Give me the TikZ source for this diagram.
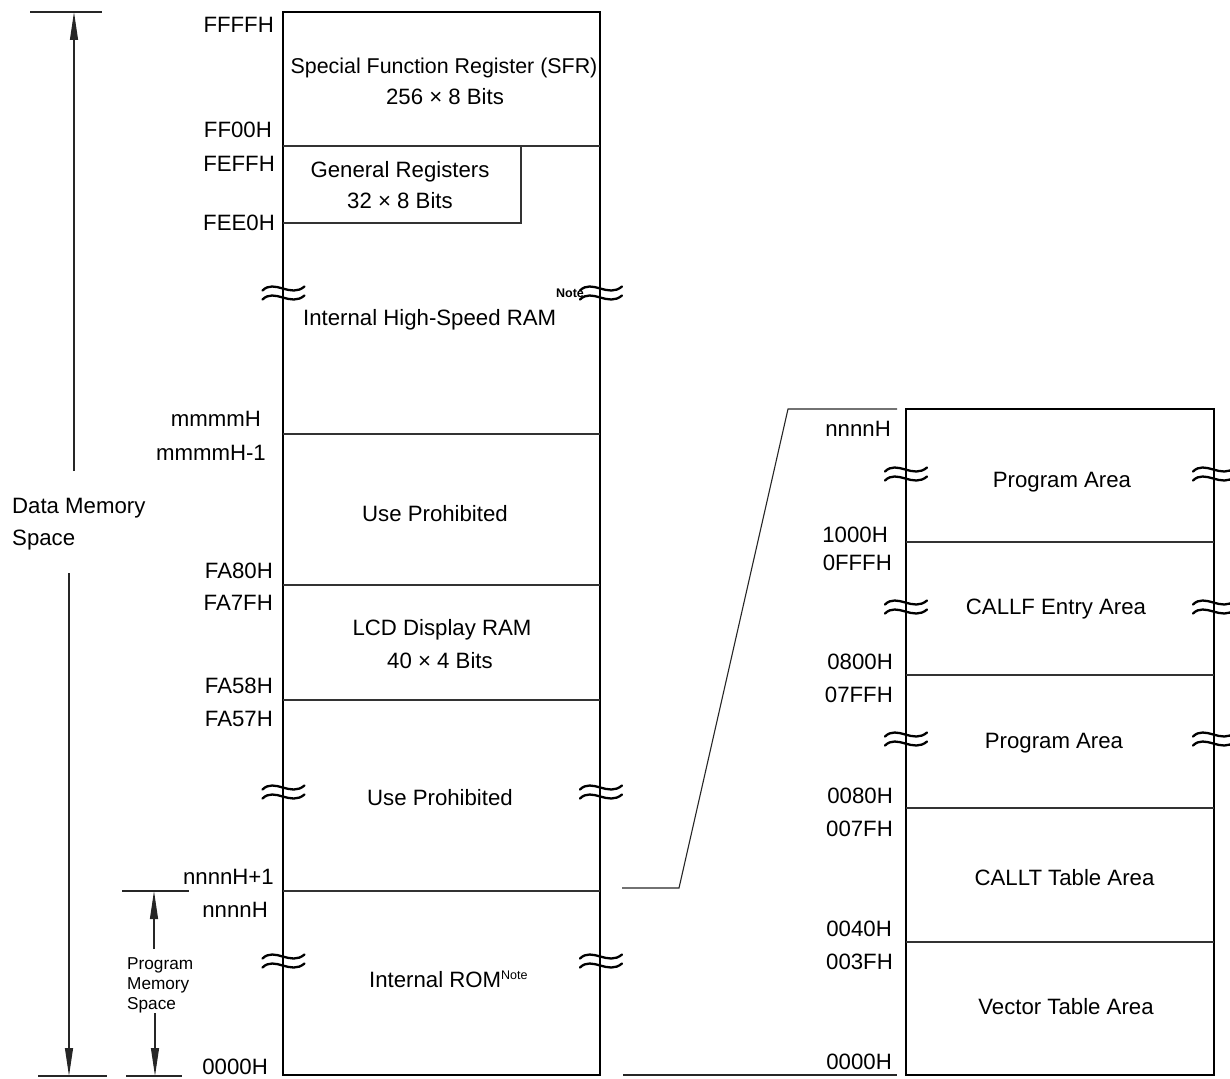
\documentclass[tikz,border=0pt]{standalone}
\usepackage{fontspec}
\setmainfont{Liberation Sans}
\usetikzlibrary{arrows.meta}
\newcommand\fsz{\fontsize{22.2}{26}\selectfont}
\newcommand\fsn{\fontsize{21.4}{26}\selectfont}
\newcommand\fsm{\fontsize{17.2}{20}\selectfont}
\newcommand\notesz{\fontsize{12.5}{12.5}\selectfont}
\begin{document}
\begin{tikzpicture}[x=1pt,y=-1pt,
  lbl/.style={font=\fsz, inner sep=0pt, text height=15.9pt, text depth=0pt, anchor=east},
  txt/.style={font=\fsz, inner sep=0pt, text height=15.9pt, text depth=0pt},
  sml/.style={font=\fsm, inner sep=0pt, text height=12.3pt, text depth=0pt, anchor=west},
  boxline/.style={line width=2.8pt},
  sep/.style={line width=1.2pt, black!80},
  thinline/.style={line width=1.1pt, black!85},
  arr/.style={thinline, -{Triangle[length=28pt,width=8pt]}},
  brk/.style={line width=2.3pt, line cap=round},
  brkm/.pic={
    \draw[brk] (-21,-2.5) .. controls (-9,-14.5) and (7,5.5) .. (21,-6.5);
    \draw[brk] (-21,6.5) .. controls (-9,-5.5) and (7,14.5) .. (21,2.5);
  }]
\useasboundingbox (0,0) rectangle (1230,1078);

% ---------- main (data memory) column ----------
\draw[boxline] (283,12) rectangle (600,1075);
\draw[sep] (283,146) -- (600,146);
\draw[sep] (283,223) -- (521,223) -- (521,146);
\draw[sep] (283,434) -- (600,434);
\draw[sep] (283,585) -- (600,585);
\draw[sep] (283,700) -- (600,700);
\draw[sep] (283,891) -- (600,891);

\foreach \yy in {293,792,961} {
  \pic at (283.5,\yy) {brkm};
  \pic at (601,\yy) {brkm};
}

\node[txt, font=\fsn] (sfr1) at (444,66) {Special Function Register (SFR)};
\node[txt] (sfr2) at (445,97) {256 × 8 Bits};
\node[txt] (gr1) at (400,169.5) {General Registers};
\node[txt] (gr2) at (400,201) {32 × 8 Bits};
\node[txt, anchor=west] (hsram) at (303,317.5) {Internal High-Speed RAM\raisebox{28pt}{\notesz\bfseries Note}};
\node[txt] (up1) at (435,514) {Use Prohibited};
\node[txt] (lcd1) at (442,628) {LCD Display RAM};
\node[txt] (lcd2) at (440,661) {40 × 4 Bits};
\node[txt] (up2) at (440,797.5) {Use Prohibited};
\node[txt, anchor=west] (rom) at (369,980) {Internal ROM\raisebox{8.5pt}{\notesz Note}};

\node[lbl] (a1) at (274,24.5) {FFFFH};
\node[lbl] (a2) at (272,130) {FF00H};
\node[lbl] (a3) at (275,164) {FEFFH};
\node[lbl] (a4) at (275,223) {FEE0H};
\node[lbl] (a5) at (261,419) {mmmmH};
\node[lbl] (a6) at (266,452.5) {mmmmH-1};
\node[lbl] (a7) at (273,571) {FA80H};
\node[lbl] (a8) at (273,603) {FA7FH};
\node[lbl] (a9) at (273,686) {FA58H};
\node[lbl] (a10) at (273,719) {FA57H};
\node[lbl] (a11) at (274,877) {nnnnH+1};
\node[lbl] (a12) at (268,910) {nnnnH};
\node[lbl] (a13) at (268,1067) {0000H};

% ---------- Data Memory Space dimension ----------
\coordinate (dmT1) at (30,12);
\coordinate (dmT2) at (102,12);
\coordinate (dmTop) at (74,12);
\coordinate (dmUp) at (74,471);
\coordinate (dmDn) at (69,573);
\coordinate (dmBot) at (69,1076);
\coordinate (dmB1) at (38,1076);
\coordinate (dmB2) at (107,1076);
\draw[thinline] (dmT1) -- (dmT2);
\draw[thinline] (dmB1) -- (dmB2);
\draw[arr] (dmUp) -- (dmTop);
\draw[arr] (dmDn) -- (dmBot);
\node[txt, anchor=west] (dm1) at (12,506) {Data Memory};
\node[txt, anchor=west] (dm2) at (12,538) {Space};

% ---------- Program Memory Space dimension ----------
\coordinate (pmT1) at (122,891);
\coordinate (pmT2) at (189,891);
\coordinate (pmTop) at (154,891);
\coordinate (pmUp) at (154,949);
\coordinate (pmDn) at (155,1013);
\coordinate (pmBot) at (155,1076);
\coordinate (pmB1) at (126,1076);
\coordinate (pmB2) at (182,1076);
\draw[thinline] (pmT1) -- (pmT2);
\draw[thinline] (pmB1) -- (pmB2);
\draw[arr] (pmUp) -- (pmTop);
\draw[arr] (pmDn) -- (pmBot);
\node[sml] (pm1) at (127,963) {Program};
\node[sml] (pm2) at (127,983.5) {Memory};
\node[sml] (pm3) at (127,1003.5) {Space};

% ---------- zoom connector ----------
\coordinate (zA) at (897,409);
\coordinate (zB) at (788,409);
\coordinate (zC) at (679,888);
\coordinate (zD) at (622,888);
\coordinate (zE) at (623,1075);
\coordinate (zF) at (897,1075);
\draw[thinline] (zA) -- (zB) -- (zC) -- (zD);
\draw[thinline] (zE) -- (zF);

% ---------- right (program memory) column ----------
\draw[boxline] (906,409) rectangle (1214,1075);
\draw[sep] (906,542) -- (1214,542);
\draw[sep] (906,675) -- (1214,675);
\draw[sep] (906,808) -- (1214,808);
\draw[sep] (906,942) -- (1214,942);

\foreach \yy in {474,607,739} {
  \pic at (906,\yy) {brkm};
  \pic at (1214,\yy) {brkm};
}

\node[txt] (r1) at (1062,479.5) {Program Area};
\node[txt] (r2) at (1056,606.5) {CALLF Entry Area};
\node[txt] (r3) at (1054,740.5) {Program Area};
\node[txt] (r4) at (1064.5,878) {CALLT Table Area};
\node[txt] (r5) at (1066,1007) {Vector Table Area};

\node[lbl] (b1) at (891,428.5) {nnnnH};
\node[lbl] (b2) at (888,534.5) {1000H};
\node[lbl] (b3) at (892,562.5) {0FFFH};
\node[lbl] (b4) at (893,662) {0800H};
\node[lbl] (b5) at (893,695) {07FFH};
\node[lbl] (b6) at (893,796) {0080H};
\node[lbl] (b7) at (893,829) {007FH};
\node[lbl] (b8) at (892,929) {0040H};
\node[lbl] (b9) at (893,962) {003FH};
\node[lbl] (b10) at (892,1062) {0000H};
\end{tikzpicture}
\end{document}
